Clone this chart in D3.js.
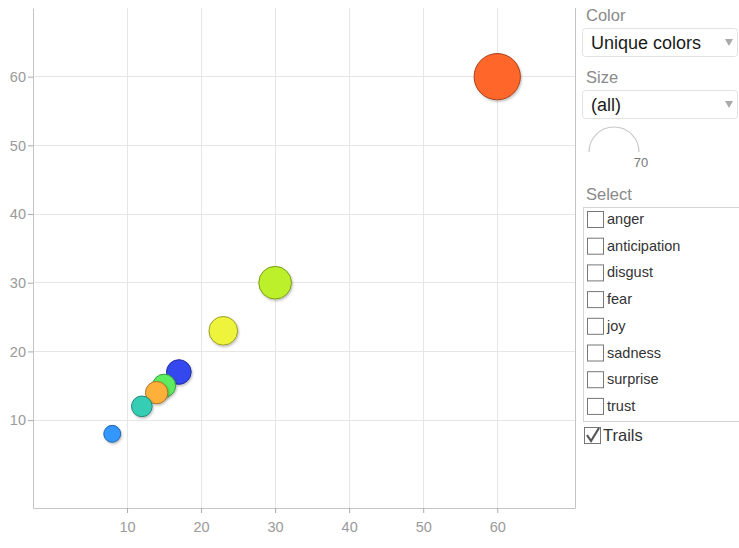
<!DOCTYPE html>
<html>
<head>
<meta charset="utf-8">
<script src="https://cdn.jsdelivr.net/npm/d3@7/dist/d3.min.js"></script>
<style>
  html, body { margin: 0; padding: 0; background: #fff; }
  svg { display: block; font-family: "Liberation Sans", Arial, Helvetica, sans-serif; }
</style>
</head>
<body>
<svg id="chart" width="739" height="548"></svg>
<script>
// ---- data ----
const categories = ["anger", "anticipation", "disgust", "fear", "joy", "sadness", "surprise", "trust"];
const xValues    = [60, 14, 23, 30, 15, 12, 8, 17];
const yValues    = [60, 14, 23, 30, 15, 12, 8, 17];
const sizeValues = [60, 14, 23, 30, 15, 12, 8, 17];
const colors     = ["#ff6629", "#ffb03a", "#eef33a", "#bbf02a", "#5ced60", "#35cdb3", "#3397ff", "#3447ee"];
const xTicks = [10, 20, 30, 40, 50, 60];
const yTicks = [10, 20, 30, 40, 50, 60];
const sizeMax = 70;
const colorOption = "Unique colors";
const sizeOption = "(all)";

(function () {
const svg = d3.select("#chart");
const pL = 33, pR = 575, pT = 8, pB = 508;

const x = d3.scaleLinear().domain([-2.7, 70.5]).range([pL, pR]);
const y = d3.scaleLinear().domain([-2.8, 70]).range([pB, pT]);
const r = d3.scaleSqrt().domain([0, sizeMax]).range([0, 25]);

// shadow filter
const defs = svg.append("defs");
const f = defs.append("filter").attr("id", "sh").attr("x", "-30%").attr("y", "-30%").attr("width", "170%").attr("height", "170%");
f.append("feDropShadow").attr("dx", 1).attr("dy", 1.5).attr("stdDeviation", 1.2).attr("flood-color", "#000").attr("flood-opacity", 0.25);

// gridlines
svg.append("g").selectAll("line").data(xTicks).join("line")
  .attr("x1", d => x(d)).attr("x2", d => x(d)).attr("y1", pT).attr("y2", pB)
  .attr("stroke", "#e6e6e6").attr("stroke-width", 1).attr("shape-rendering", "crispEdges");
svg.append("g").selectAll("line").data(yTicks).join("line")
  .attr("x1", pL).attr("x2", pR).attr("y1", d => y(d)).attr("y2", d => y(d))
  .attr("stroke", "#e6e6e6").attr("stroke-width", 1).attr("shape-rendering", "crispEdges");

// axes
const xAxis = d3.axisBottom(x).tickValues(xTicks).tickSize(5).tickSizeOuter(0).tickPadding(6);
const yAxis = d3.axisLeft(y).tickValues(yTicks).tickSize(5).tickSizeOuter(0).tickPadding(2);
const gx = svg.append("g").attr("transform", `translate(0,${pB})`).call(xAxis);
const gy = svg.append("g").attr("transform", `translate(${pL},0)`).call(yAxis);
[gx, gy].forEach(g => {
  g.select(".domain").attr("stroke", "#c4c4c4");
  g.selectAll(".tick line").attr("stroke", "#aaa");
  g.selectAll(".tick text").attr("fill", "#9a9a9a").attr("font-size", 14.5)
    .attr("font-family", "'Liberation Sans', Arial, sans-serif");
});
gx.selectAll(".tick text").attr("dy", "0.9em");
// right frame
svg.append("line").attr("x1", pR).attr("x2", pR).attr("y1", pT).attr("y2", pB)
  .attr("stroke", "#c4c4c4").attr("shape-rendering", "crispEdges");

// bubbles
const data = categories.map((c, i) => ({ c, x: xValues[i], y: yValues[i], s: sizeValues[i], col: colors[i] }))
  .sort((a, b) => b.s - a.s);
svg.append("g").selectAll("circle").data(data).join("circle")
  .attr("cx", d => x(d.x)).attr("cy", d => y(d.y)).attr("r", d => r(d.s))
  .attr("fill", d => d.col)
  .attr("stroke", d => d3.color(d.col).darker(1.2))
  .attr("stroke-width", 1)
  .attr("filter", "url(#sh)");

// ---- right panel ----
const P = svg.append("g");
const labelColor = "#8a8a8a";
P.append("text").attr("x", 586).attr("y", 21).text("Color").attr("font-size", 16.5).attr("fill", labelColor);
function dropdown(yTop, txt) {
  P.append("rect").attr("x", 582.5).attr("y", yTop + 0.5).attr("width", 155).attr("height", 28).attr("rx", 3)
    .attr("fill", "#fff").attr("stroke", "#e2e2e2");
  P.append("text").attr("x", 591).attr("y", yTop + 21).text(txt).attr("font-size", 18).attr("fill", "#1a1a1a");
  P.append("path").attr("d", `M725,${yTop + 11} L733,${yTop + 11} L729,${yTop + 18} Z`).attr("fill", "#aaa");
}
dropdown(28, colorOption);
P.append("text").attr("x", 586).attr("y", 83).text("Size").attr("font-size", 16.5).attr("fill", labelColor);
dropdown(90, sizeOption);
// size legend arc
const arcGen = d3.arc().innerRadius(r(sizeMax)).outerRadius(r(sizeMax)).startAngle(-Math.PI / 2).endAngle(Math.PI / 2);
P.append("path").attr("transform", "translate(614,152)").attr("d", arcGen())
  .attr("fill", "none").attr("stroke", "#c8c8c8").attr("stroke-width", 1.2);
P.append("text").attr("x", 641).attr("y", 167).attr("text-anchor", "middle").text(sizeMax)
  .attr("font-size", 13).attr("fill", "#777");

P.append("text").attr("x", 586).attr("y", 200).text("Select").attr("font-size", 16.5).attr("fill", labelColor);
const listTop = 207, rowH = 26.7;
P.append("rect").attr("x", 583.5).attr("y", listTop + 0.5).attr("width", 160).attr("height", 214)
  .attr("fill", "#fff").attr("stroke", "#d4d4d4");
const rows = P.append("g").selectAll("g").data(categories).join("g")
  .attr("transform", (d, i) => `translate(0,${listTop + 12 + i * rowH})`);
rows.append("rect").attr("x", 587.5).attr("y", -7.5).attr("width", 16).attr("height", 16)
  .attr("fill", "#fff").attr("stroke", "#777").attr("stroke-width", 1);
rows.append("text").attr("x", 607).attr("y", 5).text(d => d).attr("font-size", 14.5).attr("fill", "#333");

// Trails checkbox
P.append("rect").attr("x", 584.5).attr("y", 427.5).attr("width", 16).attr("height", 16)
  .attr("fill", "#fff").attr("stroke", "#777");
P.append("path").attr("d", "M587,435 L591,441 L599,428").attr("fill", "none").attr("stroke", "#555").attr("stroke-width", 2.2);
P.append("text").attr("x", 603).attr("y", 441).text("Trails").attr("font-size", 16.5).attr("fill", "#333");
})();
</script>
</body>
</html>
